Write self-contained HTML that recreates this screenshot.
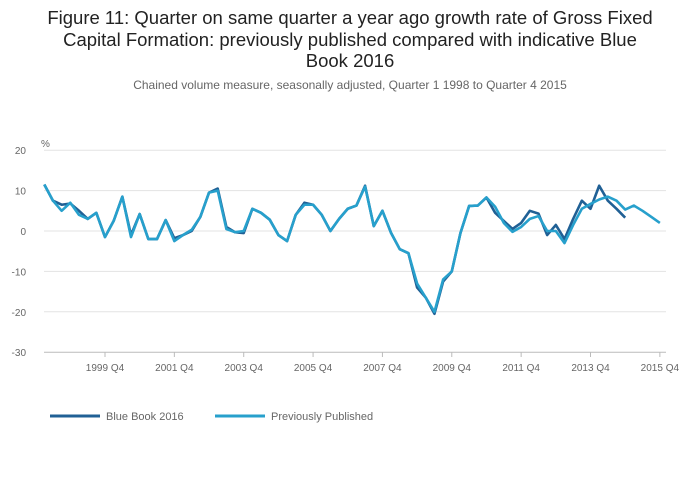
<!DOCTYPE html>
<html><head><meta charset="utf-8"><style>
body{margin:0;background:#fff;font-family:"Liberation Sans",sans-serif}
#wrap{position:relative;width:700px;height:502px;overflow:hidden}
h1{position:absolute;left:0;top:7px;width:700px;margin:0;text-align:center;font-size:18.5px;font-weight:normal;line-height:21.5px;color:#222}
.sub{position:absolute;left:0;top:78px;width:700px;text-align:center;font-size:12px;color:#666}
</style></head><body>
<div id="wrap">
<h1>Figure 11: Quarter on same quarter a year ago growth rate of Gross Fixed<br>Capital Formation: previously published compared with indicative Blue<br>Book 2016</h1>
<div class="sub">Chained volume measure, seasonally adjusted, Quarter 1 1998 to Quarter 4 2015</div>
<svg id="svg" width="700" height="502" style="position:absolute;left:0;top:0"></svg>
</div>
<script>
const yTicks=[20,10,0,-10,-20,-30];
const xTickIdx=[7,15,23,31,39,47,55,63,71];
const xTickLabels=["1999 Q4","2001 Q4","2003 Q4","2005 Q4","2007 Q4","2009 Q4","2011 Q4","2013 Q4","2015 Q4"];
const previouslyPublished=[11.5,7.5,5,7,4,3,4.5,-1.5,2.5,8.5,-1.5,4.2,-2,-2,2.7,-2.5,-1,0.3,3.5,9.5,10,0.5,-0.3,0,5.5,4.5,2.8,-1,-2.5,4,6.5,6.5,4,0,3,5.5,6.3,11,1.2,5,-0.5,-4.5,-5.5,-13,-16.5,-20,-12,-10,-0.5,6.2,6.3,8.3,6,2,-0.2,1,3,3.7,0,0,-3,1.5,5.5,6.7,7.8,8.5,7.5,5.3,6.3,5,3.5,2];
const blueBook2016=[11.5,7.5,6.5,6.8,5,3,4.5,-1.5,2.5,8.5,-1,4.2,-2,-2,2.7,-1.8,-1,0,3.5,9.5,10.5,1,-0.3,-0.5,5.5,4.5,2.8,-1,-2.5,4,7,6.5,4,0,3,5.5,6.3,11.2,1.2,5,-0.5,-4.5,-5.5,-14,-16.5,-20.5,-12.5,-10,-0.5,6.2,6.3,8.3,4.5,2.5,0.5,2,5,4.3,-1,1.5,-2,3,7.5,5.5,11.2,7.5,5.5,3.3];
const NS="http://www.w3.org/2000/svg";
const svg=document.getElementById('svg');
const x=i=>44.3+i*8.67;
const y=v=>231-v*4.04;
function mk(t,a){const e=document.createElementNS(NS,t);for(const k in a)e.setAttribute(k,a[k]);svg.appendChild(e);return e;}
yTicks.forEach(v=>{
  const g=mk('line',{x1:44,x2:666,y1:y(v),y2:y(v),stroke:v===-30?'#bbb':'#e3e3e3','stroke-width':1});
  
  
  const t=mk('text',{x:26,y:y(v)+4,'text-anchor':'end','font-size':10,fill:'#666','font-family':'Liberation Sans'});
  t.textContent=v;
  
  
});
const pct=mk('text',{x:41,y:147,'font-size':10,fill:'#666','font-family':'Liberation Sans'});pct.textContent='%';


xTickIdx.forEach((ix,k)=>{
  const l=mk('line',{x1:x(ix),x2:x(ix),y1:352,y2:357,stroke:'#bbb'});
  
  
  const t=mk('text',{x:x(ix),y:371,'text-anchor':'middle','font-size':10,fill:'#666','font-family':'Liberation Sans'});
  t.textContent=xTickLabels[k];
  
  
});
function series(data,color,name){
  const p=mk('polyline',{points:data.map((v,i)=>x(i)+','+y(v)).join(' '),fill:'none',stroke:color,'stroke-width':2.6,'stroke-linejoin':'round'});
  
  
}
series(blueBook2016,'#206095','line-blue-book-2016');
series(previouslyPublished,'#27a0cc','line-previously-published');
function legend(x0,color,label,name){
  const l=mk('line',{x1:x0,x2:x0+50,y1:416,y2:416,stroke:color,'stroke-width':3});
  
  
  const t=mk('text',{x:x0+56,y:420,'font-size':11,fill:'#666','font-family':'Liberation Sans'});
  t.textContent=label;
  
  
}
legend(50,'#206095','Blue Book 2016','legend-blue-book-2016');
legend(215,'#27a0cc','Previously Published','legend-previously-published');
</script>
</body></html>
